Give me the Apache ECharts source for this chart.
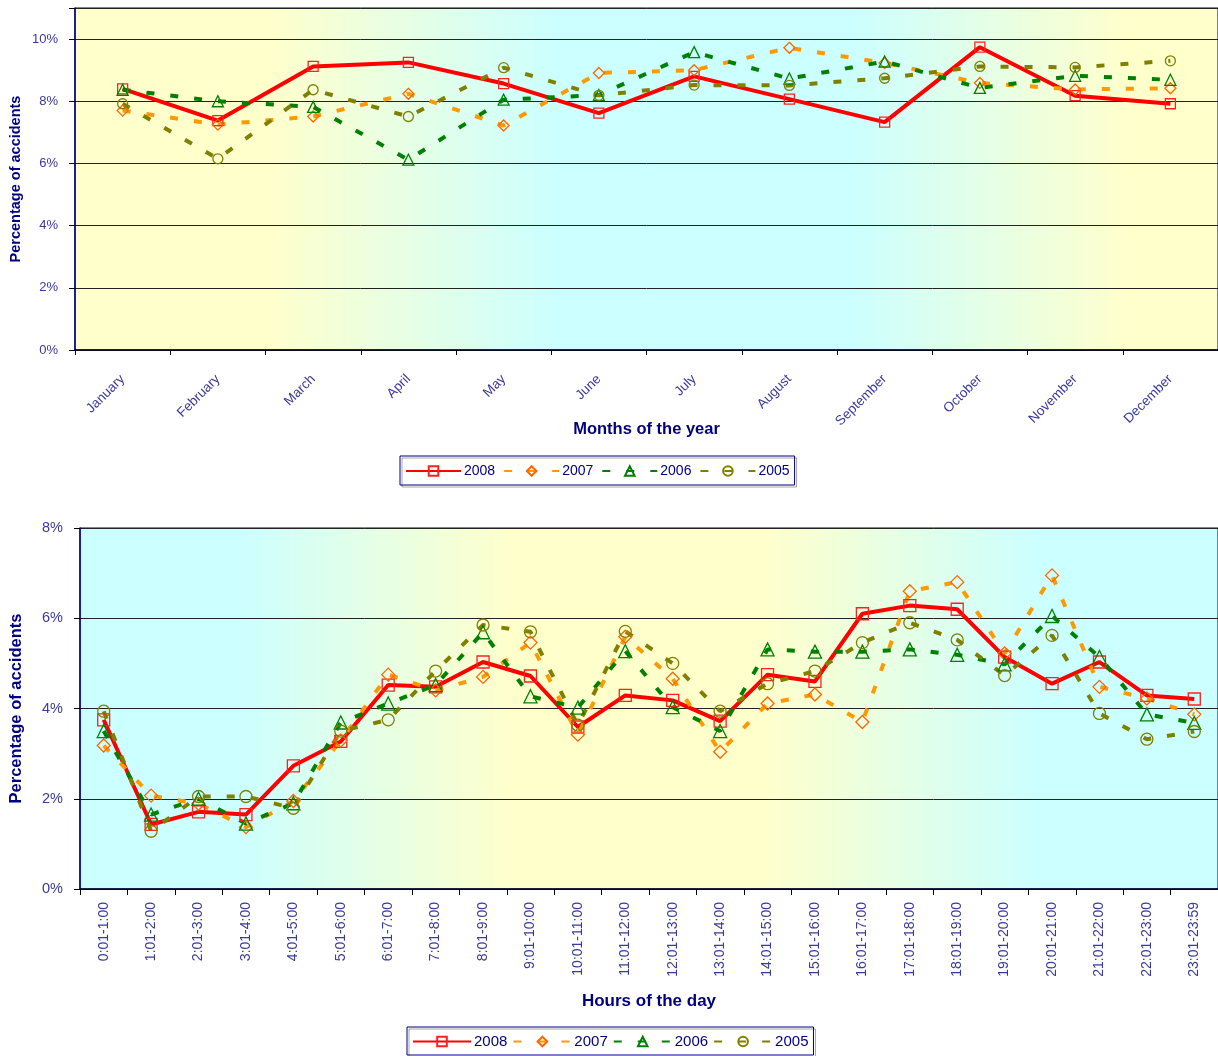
<!DOCTYPE html>
<html>
<head>
<meta charset="utf-8">
<script src="https://cdn.jsdelivr.net/npm/echarts@6/dist/echarts.min.js"></script>
<style>
  html, body { margin: 0; padding: 0; background: #fff; }
  #chart { width: 1218px; height: 1056px; }
</style>
</head>
<body>
<div id="chart"></div>
<script>
// top chart: months
var months = ['January', 'February', 'March', 'April', 'May', 'June', 'July', 'August', 'September', 'October', 'November', 'December']
var m2008 = [8.40, 7.38, 9.12, 9.25, 8.57, 7.62, 8.80, 8.07, 7.33, 9.74, 8.18, 7.92]
var m2007 = [7.70, 7.25, 7.51, 8.24, 7.22, 8.91, 9.00, 9.72, 9.23, 8.59, 8.38, 8.42]
var m2006 = [8.37, 8.00, 7.82, 6.12, 8.05, 8.20, 9.58, 8.73, 9.28, 8.43, 8.82, 8.69]
var m2005 = [7.92, 6.15, 8.37, 7.51, 9.08, 8.19, 8.52, 8.51, 8.74, 9.12, 9.09, 9.30]

// bottom chart: hours
var hours = ['0:01-1:00', '1:01-2:00', '2:01-3:00', '3:01-4:00', '4:01-5:00', '5:01-6:00', '6:01-7:00', '7:01-8:00',
  '8:01-9:00', '9:01-10:00', '10:01-11:00', '11:01-12:00', '12:01-13:00', '13:01-14:00', '14:01-15:00', '15:01-16:00',
  '16:01-17:00', '17:01-18:00', '18:01-19:00', '19:01-20:00', '20:01-21:00', '21:01-22:00', '22:01-23:00', '23:01-23:59']
var h2008 = [3.75, 1.43, 1.71, 1.65, 2.73, 3.27, 4.52, 4.48, 5.03, 4.72, 3.59, 4.29, 4.18, 3.72, 4.75, 4.60, 6.10, 6.28, 6.20, 5.14, 4.55, 5.03, 4.29, 4.21]
var h2007 = [3.18, 2.07, 1.89, 1.37, 1.95, 3.29, 4.75, 4.40, 4.70, 5.46, 3.42, 5.59, 4.66, 3.04, 4.11, 4.31, 3.70, 6.60, 6.80, 5.22, 6.95, 4.48, 4.22, 3.87]
var h2006 = [3.50, 1.65, 2.00, 1.45, 1.90, 3.69, 4.11, 4.52, 5.69, 4.27, 4.02, 5.27, 4.03, 3.50, 5.31, 5.26, 5.26, 5.31, 5.19, 4.98, 6.05, 5.14, 3.87, 3.68]
var h2005 = [3.94, 1.28, 2.05, 2.05, 1.79, 3.50, 3.75, 4.83, 5.85, 5.70, 3.63, 5.71, 5.00, 3.94, 4.55, 4.83, 5.46, 5.90, 5.52, 4.73, 5.62, 3.89, 3.32, 3.49]

var years = ['2008', '2007', '2006', '2005']

var SANS = "'Liberation Sans', Arial, sans-serif"
var NAVY = '#000080'
var LABEL = '#3a3a9a'
var YELLOW = '#FFFFCC'
var CYAN = '#CCFFFF'

// line looks per year
var looks = [
  { line: '#FF0000', mark: '#FF2020', symbol: 'rect', size: 10, dash: 'solid' },
  { line: '#FF9900', mark: '#FF6600', symbol: 'diamond', size: 11, dash: [8, 16] },
  { line: '#008000', mark: '#008000', symbol: 'triangle', size: 11, dash: [8, 16] },
  { line: '#808000', mark: '#808000', symbol: 'circle', size: 10, dash: [8, 16] }
]

function makeSeries(name, data, look, idx, bump) {
  return {
    name: name,
    type: 'line',
    xAxisIndex: idx,
    yAxisIndex: idx,
    data: data,
    symbol: look.symbol,
    symbolSize: look.size + bump,
    showAllSymbol: true,
    animation: false,
    lineStyle: { color: look.line, width: 4, type: look.dash, cap: 'butt' },
    itemStyle: { color: 'rgba(255,255,255,0)', borderColor: look.mark, borderWidth: 1.3 }
  }
}

function grad(stops) {
  return { type: 'linear', x: 0, y: 0, x2: 1, y2: 0, colorStops: stops }
}

var chart = echarts.init(document.getElementById('chart'))
chart.setOption({
  backgroundColor: '#fff',
  textStyle: { fontFamily: SANS },
  grid: [
    {
      left: 75, top: 8, width: 1144, height: 342, show: true, borderColor: NAVY, borderWidth: 1,
      backgroundColor: grad([
        { offset: 0, color: YELLOW }, { offset: 0.17, color: YELLOW },
        { offset: 0.42, color: CYAN }, { offset: 0.68, color: CYAN },
        { offset: 0.92, color: YELLOW }, { offset: 1, color: YELLOW }
      ])
    },
    {
      left: 79, top: 528, width: 1147, height: 361, show: true, borderColor: NAVY, borderWidth: 1,
      backgroundColor: grad([
        { offset: 0, color: CYAN }, { offset: 0.14, color: CYAN },
        { offset: 0.38, color: YELLOW }, { offset: 0.6, color: YELLOW },
        { offset: 0.84, color: CYAN }, { offset: 1, color: CYAN }
      ])
    }
  ],
  legend: [
    {
      data: years,
      left: 400, top: 456, orient: 'horizontal',
      itemWidth: 55, itemHeight: 12, itemGap: 8,
      padding: [8, 5, 7, 5],
      borderColor: NAVY, borderWidth: 1,
      shadowColor: 'rgba(0,0,0,0.35)', shadowOffsetX: 2, shadowOffsetY: 2,
      textStyle: { color: NAVY, fontFamily: SANS, fontSize: 14, padding: [0, 0, 0, -2] },
      selectedMode: false
    },
    {
      data: years,
      left: 407, top: 1027, orient: 'horizontal',
      itemWidth: 58, itemHeight: 12, itemGap: 5,
      padding: [7, 5, 6, 5],
      borderColor: NAVY, borderWidth: 1,
      shadowColor: 'rgba(0,0,0,0.35)', shadowOffsetX: 2, shadowOffsetY: 2,
      textStyle: { color: NAVY, fontFamily: SANS, fontSize: 15, padding: [0, 0, 0, -2] },
      selectedMode: false
    }
  ],
  xAxis: [
    {
      type: 'category', gridIndex: 0, data: months, boundaryGap: true,
      name: 'Months of the year', nameLocation: 'middle', nameGap: 71, nameMoveOverlap: false,
      nameTextStyle: { color: NAVY, fontFamily: SANS, fontWeight: 'bold', fontSize: 16.5 },
      axisLine: { lineStyle: { color: '#000022', width: 1.5 } },
      axisTick: { show: true, length: 5, interval: 0, lineStyle: { color: '#000' } },
      axisLabel: { interval: 0, rotate: 45, margin: 27, color: LABEL, fontFamily: SANS, fontSize: 13.5 }
    },
    {
      type: 'category', gridIndex: 1, data: hours, boundaryGap: true,
      name: 'Hours of the day', nameLocation: 'middle', nameGap: 104, nameMoveOverlap: false,
      nameTextStyle: { color: NAVY, fontFamily: SANS, fontWeight: 'bold', fontSize: 17 },
      axisLine: { lineStyle: { color: '#000022', width: 1.5 } },
      axisTick: { show: true, length: 6, interval: 0, lineStyle: { color: '#000' } },
      axisLabel: { interval: 0, rotate: 90, margin: 13, color: LABEL, fontFamily: SANS, fontSize: 14 }
    }
  ],
  yAxis: [
    {
      type: 'value', gridIndex: 0, min: 0, max: 11, interval: 2,
      name: 'Percentage of accidents', nameLocation: 'middle', nameGap: 52, nameMoveOverlap: false,
      nameTextStyle: { color: NAVY, fontFamily: SANS, fontWeight: 'bold', fontSize: 14.5 },
      axisLine: { show: true, lineStyle: { color: NAVY, width: 1.5 } },
      axisTick: { show: true, length: 6, lineStyle: { color: '#000' } },
      axisLabel: {
        margin: 17, color: LABEL, fontFamily: SANS, fontSize: 13,
        formatter: function (v) { return v % 2 === 0 ? v + '%' : '' }
      },
      splitLine: { lineStyle: { color: '#222', width: 1 } }
    },
    {
      type: 'value', gridIndex: 1, min: 0, max: 8, interval: 2,
      name: 'Percentage of accidents', nameLocation: 'middle', nameGap: 55, nameMoveOverlap: false,
      nameTextStyle: { color: NAVY, fontFamily: SANS, fontWeight: 'bold', fontSize: 16.5 },
      axisLine: { show: true, lineStyle: { color: NAVY, width: 1.5 } },
      axisTick: { show: true, length: 6, lineStyle: { color: '#000' } },
      axisLabel: { margin: 17, color: LABEL, fontFamily: SANS, fontSize: 14.5, formatter: '{value}%' },
      splitLine: { lineStyle: { color: '#222', width: 1 } }
    }
  ],
  series: [
    makeSeries('2008', m2008, looks[0], 0, 0),
    makeSeries('2007', m2007, looks[1], 0, 0),
    makeSeries('2006', m2006, looks[2], 0, 0),
    makeSeries('2005', m2005, looks[3], 0, 0),
    makeSeries('2008', h2008, looks[0], 1, 2),
    makeSeries('2007', h2007, looks[1], 1, 2),
    makeSeries('2006', h2006, looks[2], 1, 2),
    makeSeries('2005', h2005, looks[3], 1, 2)
  ]
})
</script>
</body>
</html>
